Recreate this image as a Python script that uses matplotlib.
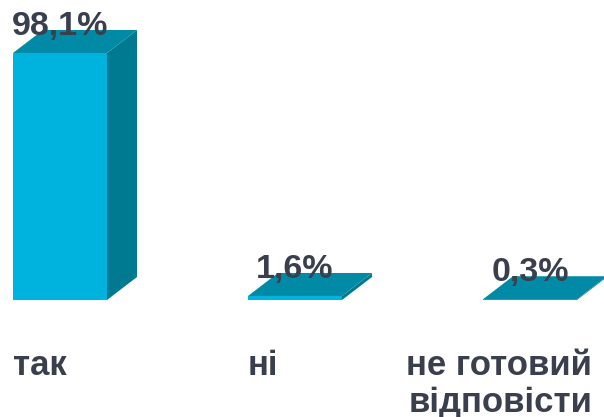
import matplotlib
matplotlib.use("Agg")
import matplotlib.pyplot as plt
from matplotlib.patches import Polygon

categories = ["так", "ні", "не готовий\nвідповісти"]
values = [98.1, 1.6, 0.3]
value_labels = ["98,1%", "1,6%", "0,3%"]

FRONT = "#00B3DF"
TOP = "#008AA6"
SIDE = "#007A90"
TEXT = "#3A3F4E"
FAM = ["Liberation Sans", "DejaVu Sans"]

W, H = 604, 417
fig = plt.figure(figsize=(W / 100, H / 100), dpi=100)
ax = fig.add_axes([0, 0, 1, 1])

px_x = 235.0          # pixels per category unit
px_y = 2.518          # pixels per percent
x0_px = 60.0          # first bar centre (pixels from left)
base_px = 117.0       # baseline (pixels from bottom)
ax.set_xlim(-x0_px / px_x, (W - x0_px) / px_x)
ax.set_ylim(-base_px / px_y, (H - base_px) / px_y)
ax.axis("off")

bw = 94 / px_x
dx = 30 / px_x
dy = 23 / px_y

for i, v in enumerate(values):
    l, r = i - bw / 2, i + bw / 2
    front = Polygon([(l, 0), (r, 0), (r, v), (l, v)], closed=True,
                    facecolor=FRONT, edgecolor="none")
    side = Polygon([(r, 0), (r + dx, dy), (r + dx, v + dy), (r, v)], closed=True,
                   facecolor=SIDE, edgecolor="none")
    top = Polygon([(l, v), (r, v), (r + dx, v + dy), (l + dx, v + dy)], closed=True,
                  facecolor=TOP, edgecolor="none")
    for p in (side, front, top):
        ax.add_patch(p)
    ax.text(i, v + 18 / px_y, value_labels[i], ha="center", va="baseline",
            fontsize=24.5, fontweight="bold", color=TEXT, family=FAM)

label_y = -75 / px_y
line_gap = 37 / px_y
for i, c in enumerate(categories):
    lines = c.split("\n")
    if i < 2:
        ax.text(i - bw / 2, label_y, c, ha="left", va="baseline",
                fontsize=25, fontweight="bold", color=TEXT, family=FAM)
    else:
        for k, line in enumerate(lines):
            ax.text(i + 62 / px_x, label_y - k * line_gap, line, ha="right",
                    va="baseline", fontsize=25, fontweight="bold", color=TEXT,
                    family=FAM)

fig.savefig("out.png", dpi=100)
